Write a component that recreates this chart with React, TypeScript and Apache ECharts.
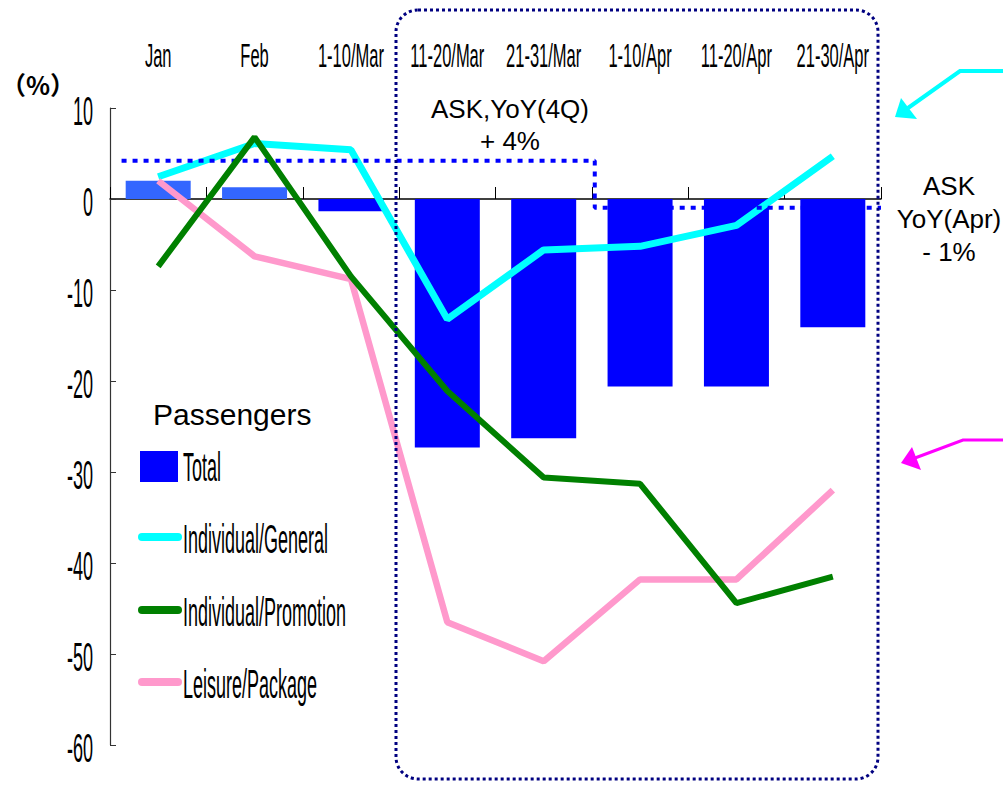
import React, { useEffect, useRef } from "react";
import * as echarts from "echarts";

const categories = ["Jan", "Feb", "1-10/Mar", "11-20/Mar", "21-31/Mar", "1-10/Apr", "11-20/Apr", "21-30/Apr"];
const totalPassengers = [2.0, 1.3, -1.35, -27.3, -26.3, -20.6, -20.6, -14.1];
const individualGeneral = [2.45, 6.1, 5.4, -13.2, -5.6, -5.2, -2.9, 4.7];
const individualPromotion = [-7.4, 6.8, -8.5, -21.1, -30.6, -31.3, -44.4, -41.5];
const leisurePackage = [2.0, -6.3, -8.8, -46.5, -50.8, -41.8, -41.8, -32.0];
// ASK YoY: 4Q level (+4%) then April level (-1%), x in category units
const askYoY = [[0.12, 4.2], [5.03, 4.2], [5.03, -0.95], [8, -0.95]];
const yTicks = [10, 0, -10, -20, -30, -40, -50, -60];
const legendTitle = "Passengers";
const legendNames = ["Total", "Individual/General", "Individual/Promotion", "Leisure/Package"];
const askLabel4Q = "ASK,YoY(4Q)\n+ 4%";
const askLabelApr = "ASK\nYoY(Apr)\n- 1%";
const unitLabel = "（%）";

const NARROW = "'Liberation Sans', Arial, sans-serif";

export default function App() {
  const ref = useRef<HTMLDivElement>(null);
  useEffect(() => {
    if (!ref.current) return;
    const chart = echarts.init(ref.current, null, { renderer: "svg" });
    const option: any = {
      animation: false,
      backgroundColor: "#ffffff",
      grid: { left: 110, right: 122, top: 108, bottom: 40, containLabel: false },
      xAxis: [
        {
          type: "category",
          data: categories,
          boundaryGap: true,
          axisLine: { show: true, onZero: true, lineStyle: { color: "#000", width: 1.5 } },
          axisTick: { show: true, inside: true, length: 12, lineStyle: { color: "#000", width: 1 } },
          axisLabel: { show: false },
          splitLine: { show: false },
        },
        {
          type: "value",
          min: 0,
          max: 8,
          show: false,
          position: "top",
        },
      ],
      yAxis: {
        type: "value",
        min: -60,
        max: 10,
        interval: 10,
        axisLine: { show: true, lineStyle: { color: "#333", width: 1.2 } },
        axisTick: { show: true, inside: true, length: 6, lineStyle: { color: "#333" } },
        axisLabel: { show: false },
        splitLine: { show: false },
      },
      series: [
        {
          name: legendNames[0],
          type: "bar",
          data: totalPassengers,
          barWidth: 65,
          z: 2,
          itemStyle: {
            color: (p: any) => (p.dataIndex < 2 ? "#3366ff" : "#0000ff"),
          },
        },
        {
          name: legendNames[1],
          type: "line",
          data: individualGeneral,
          symbol: "none",
          z: 3,
          lineStyle: { color: "#00ffff", width: 7 },
        },
        {
          name: "ASK",
          type: "line",
          xAxisIndex: 1,
          data: askYoY,
          symbol: "none",
          z: 4,
          lineStyle: { color: "#0000ff", width: 4, type: [5, 6] },
        },
        {
          name: legendNames[3],
          type: "line",
          data: leisurePackage,
          symbol: "none",
          z: 5,
          lineStyle: { color: "#ff99cc", width: 6.5 },
        },
        {
          name: legendNames[2],
          type: "line",
          data: individualPromotion,
          symbol: "none",
          z: 6,
          lineStyle: { color: "#008000", width: 6 },
        },
      ],
    };
    chart.setOption(option);

    const graphics: any[] = [];
    const txt = (text: string, x: number, y: number, opts: any = {}) => {
      const align = opts.align || "left";
      graphics.push({
        type: "text",
        x,
        y,
        scaleX: opts.scaleX || 1,
        z: 50,
        style: {
          text,
          fill: "#000",
          fontSize: opts.fontSize || 20,
          fontFamily: opts.fontFamily || NARROW,
          fontWeight: opts.fontWeight || "normal",
          lineHeight: opts.lineHeight,
          align,
          textAlign: align,
          verticalAlign: "middle",
          textVerticalAlign: "middle",
        },
      });
    };

    // category labels at top
    categories.forEach((c) => {
      const px = chart.convertToPixel({ xAxisIndex: 0 }, c) as number;
      txt(c, px, 56, { align: "center", fontSize: 33, scaleX: 0.5 });
    });
    // y tick labels
    yTicks.forEach((v) => {
      const py = chart.convertToPixel({ yAxisIndex: 0 }, v) as number;
      txt(String(v), 93, py + 3, { align: "right", fontSize: 41, scaleX: 0.44 });
    });
    // unit
    txt(unitLabel, 1, 84, { fontSize: 25, fontFamily: "'Noto Sans CJK JP', sans-serif", fontWeight: "bold" });

    // ASK annotations
    txt(askLabel4Q, 510, 125, { align: "center", fontSize: 26, lineHeight: 32 });
    txt(askLabelApr, 949, 219, { align: "center", fontSize: 26, lineHeight: 33 });

    // legend
    txt(legendTitle, 153, 414, { fontSize: 30 });
    graphics.push({ type: "rect", shape: { x: 140, y: 451, width: 38, height: 31 }, style: { fill: "#0000ff" }, z: 50 });
    const legendColors = ["#00ffff", "#008000", "#ff99cc"];
    const legendYs = [466, 538, 611, 683];
    legendColors.forEach((col, i) => {
      graphics.push({
        type: "line",
        shape: { x1: 142, y1: legendYs[i + 1] - 1, x2: 178, y2: legendYs[i + 1] - 1 },
        style: { stroke: col, lineWidth: 8, lineCap: "round" },
        z: 50,
      });
    });
    legendNames.forEach((n, i) => {
      txt(n, 183, legendYs[i] + 1, { fontSize: 40, scaleX: 0.45 });
    });

    // dotted rounded frame
    graphics.push({
      type: "rect",
      shape: { x: 396, y: 10, width: 482, height: 769, r: 22 },
      style: { fill: "none", stroke: "#000080", lineWidth: 3, lineDash: [3, 3] },
      z: 100,
    });

    // arrows
    graphics.push({
      type: "polyline",
      shape: { points: [[1003, 71], [960, 71], [908, 108]] },
      style: { stroke: "#00ffff", lineWidth: 4, fill: "none" },
      z: 50,
    });
    graphics.push({
      type: "polygon",
      shape: { points: [[895, 117], [901, 98], [917, 119]] },
      style: { fill: "#00ffff" },
      z: 50,
    });
    graphics.push({
      type: "polyline",
      shape: { points: [[1003, 440], [963, 440], [915, 458]] },
      style: { stroke: "#ff00ff", lineWidth: 3, fill: "none" },
      z: 50,
    });
    graphics.push({
      type: "polygon",
      shape: { points: [[901, 463], [912, 447], [921, 470]] },
      style: { fill: "#ff00ff" },
      z: 50,
    });

    chart.setOption({ graphic: graphics });
    return () => chart.dispose();
  }, []);
  return (
    <div
      ref={ref}
      style={{ position: "absolute", left: 0, top: 0, width: 1003, height: 785, background: "#fff" }}
    />
  );
}
